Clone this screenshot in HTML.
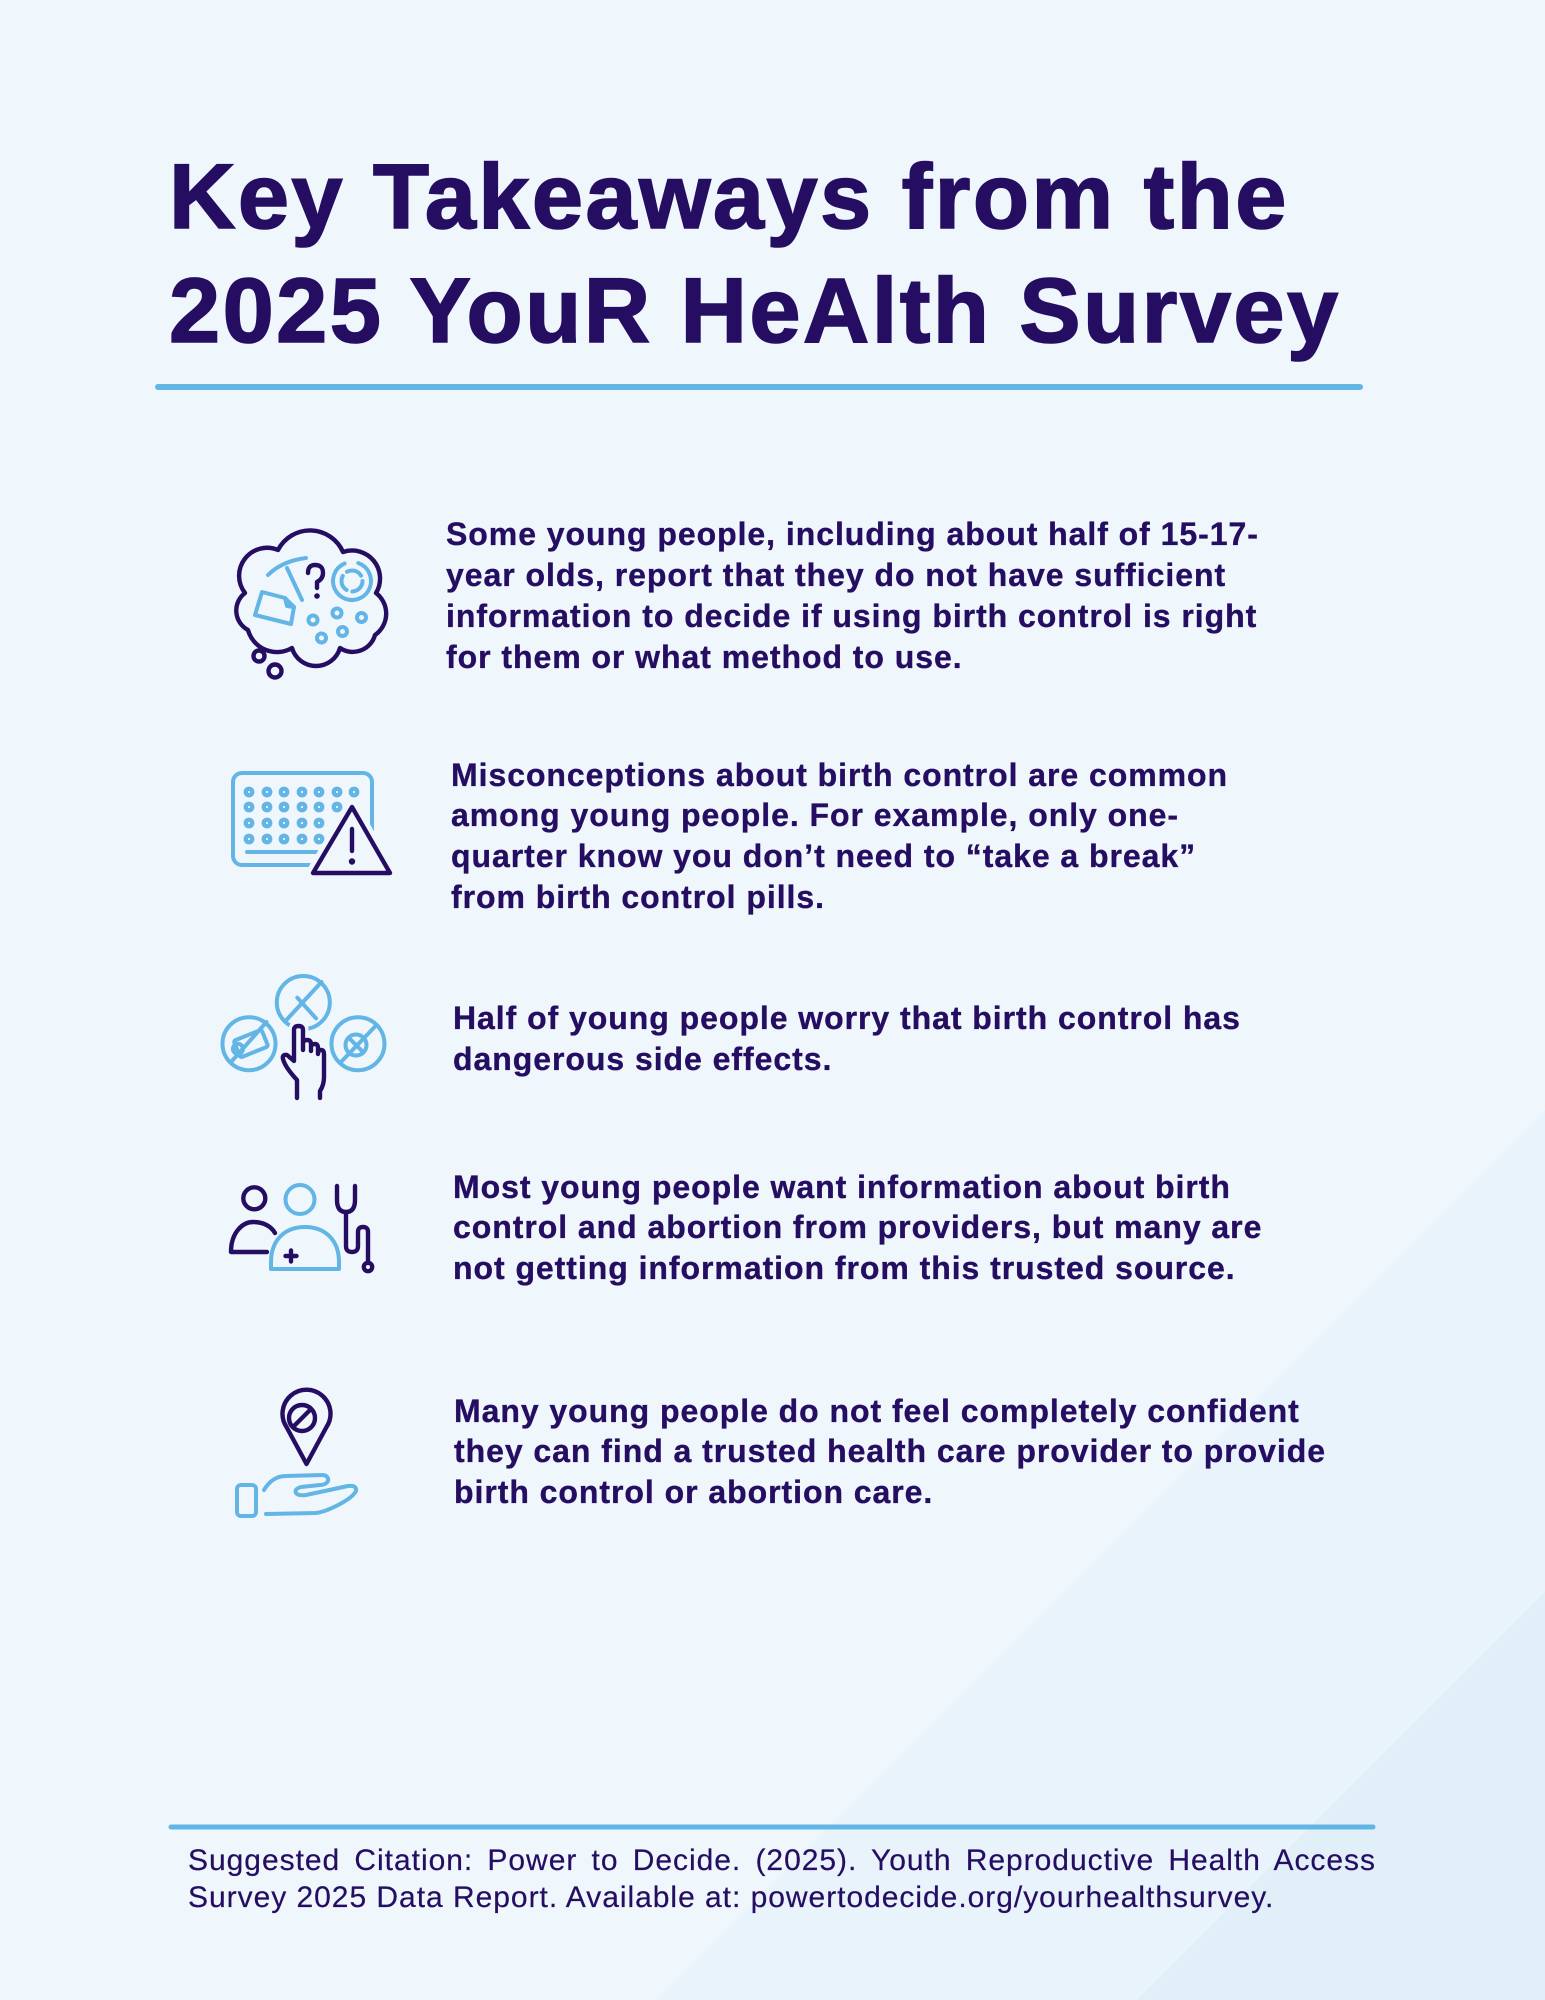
<!DOCTYPE html>
<html>
<head>
<meta charset="utf-8">
<style>
  html,body{margin:0;padding:0;}
  body{width:1545px;height:2000px;position:relative;overflow:hidden;background:#eff7fd;}
  .t{position:absolute;white-space:nowrap;font-family:"Liberation Sans",sans-serif;color:#250e62;}
  .h{font-size:92px;line-height:92px;font-weight:bold;letter-spacing:2.4px;left:169px;-webkit-text-stroke:1.6px #250e62;}
  .b{font-size:32px;line-height:32px;font-weight:bold;letter-spacing:0.95px;-webkit-text-stroke:0.35px #250e62;}
  .c{font-size:30px;line-height:30px;letter-spacing:0.97px;left:188px;-webkit-text-stroke:0.2px #250e62;}
  svg{position:absolute;overflow:visible;}
  .dk{fill:none;stroke:#250e62;stroke-width:4.4;stroke-linecap:round;stroke-linejoin:round;}
  .lb{fill:none;stroke:#62b5e5;stroke-width:4;stroke-linecap:round;stroke-linejoin:round;}
</style>
</head>
<body>
<!-- background diagonals -->
<svg style="left:0;top:0" width="1545" height="2000" viewBox="0 0 1545 2000">
  <polygon points="1545,1110 1545,2000 655,2000" fill="#e8f3fb"/>
  <polygon points="1545,1592 1545,2000 1137,2000" fill="#e1eff9"/>
  <line x1="158" y1="387" x2="1360" y2="387" stroke="#62b5e5" stroke-width="6" stroke-linecap="round"/>
  <line x1="171" y1="1827" x2="1373" y2="1827" stroke="#62b5e5" stroke-width="5" stroke-linecap="round"/>
</svg>

<div class="t h" style="top:151px">Key Takeaways from the</div>
<div class="t h" style="top:265px">2025 YouR HeAlth Survey</div>

<!-- Item 1 -->
<div class="t b" style="left:446px;top:518px">Some young people, including about half of 15-17-</div>
<div class="t b" style="left:446px;top:559px">year olds, report that they do not have sufficient</div>
<div class="t b" style="left:446px;top:600px">information to decide if using birth control is right</div>
<div class="t b" style="left:446px;top:641px">for them or what method to use.</div>

<!-- Item 2 -->
<div class="t b" style="left:451px;top:759px">Misconceptions about birth control are common</div>
<div class="t b" style="left:451px;top:799px">among young people. For example, only one-</div>
<div class="t b" style="left:451px;top:840px">quarter know you don’t need to “take a break”</div>
<div class="t b" style="left:451px;top:881px">from birth control pills.</div>

<!-- Item 3 -->
<div class="t b" style="left:453px;top:1002px">Half of young people worry that birth control has</div>
<div class="t b" style="left:453px;top:1043px">dangerous side effects.</div>

<!-- Item 4 -->
<div class="t b" style="left:453px;top:1171px">Most young people want information about birth</div>
<div class="t b" style="left:453px;top:1211px">control and abortion from providers, but many are</div>
<div class="t b" style="left:453px;top:1252px">not getting information from this trusted source.</div>

<!-- Item 5 -->
<div class="t b" style="left:454px;top:1395px">Many young people do not feel completely confident</div>
<div class="t b" style="left:454px;top:1435px">they can find a trusted health care provider to provide</div>
<div class="t b" style="left:454px;top:1476px">birth control or abortion care.</div>

<!-- Citation -->
<div class="t c" style="top:1846px;width:1188px;text-align:justify;text-align-last:justify;white-space:normal;">Suggested Citation: Power to Decide. (2025). Youth Reproductive Health Access</div>
<div class="t c" style="top:1883px">Survey 2025 Data Report. Available at: powertodecide.org/yourhealthsurvey.</div>

<!-- Icon 1: thought cloud -->
<svg style="left:220px;top:515px" width="190" height="180" viewBox="0 0 190 180">
  <path class="dk" d="M25,78 A28,28 0 0 1 58,35 A36,36 0 0 1 123,37 A28,28 0 0 1 156,78 A26,26 0 0 1 155,120 A23,23 0 0 1 120,133 A25,25 0 0 1 72,133 A30,30 0 0 1 28,115 A22,22 0 0 1 25,78 Z"/>
  <circle class="dk" cx="39" cy="141" r="5.5"/>
  <circle class="dk" cx="55" cy="156" r="6.5"/>
  <!-- packet -->
  <path class="lb" d="M42,77 L65,83 L74,92 L71,109 L35,100 Z"/>
  <path class="lb" d="M65,83 L67,91 L74,92"/>
  <!-- IUD -->
  <path class="lb" d="M48,60 Q62,46 86,43"/>
  <path class="lb" d="M67,53 L82,85"/>
  <!-- question mark -->
  <path class="dk" d="M88,58 Q88,50 95,50 Q103,50 103,58 Q103,64 97,67 L97,73"/>
  <circle cx="97" cy="81" r="2.8" fill="#250e62"/>
  <!-- ring -->
  <circle class="lb" cx="132" cy="66" r="19" stroke-dasharray="105 14" transform="rotate(-70 132 66)"/>
  <circle class="lb" cx="132" cy="66" r="10.5" stroke-dasharray="16 6"/>
  <!-- small circles -->
  <circle class="lb" cx="93" cy="105" r="4.5" stroke-width="3.4"/>
  <circle class="lb" cx="117" cy="98" r="4.5" stroke-width="3.4"/>
  <circle class="lb" cx="141.5" cy="102.5" r="4.5" stroke-width="3.4"/>
  <circle class="lb" cx="101.5" cy="123" r="4.5" stroke-width="3.4"/>
  <circle class="lb" cx="122.5" cy="116.5" r="4.5" stroke-width="3.4"/>
</svg>

<!-- Icon 2: pill pack + warning -->
<svg style="left:220px;top:760px" width="190" height="130" viewBox="0 0 190 130">
  <rect class="lb" x="13" y="13" width="139" height="92" rx="9" stroke-width="4.2"/>
  <line class="lb" x1="27" y1="92" x2="97" y2="92" stroke-width="4.2"/>
  <g fill="#62b5e5">
    <circle cx="29" cy="32" r="5.4"/><circle cx="47" cy="32" r="5.4"/><circle cx="64" cy="32" r="5.4"/><circle cx="82" cy="32" r="5.4"/><circle cx="99" cy="32" r="5.4"/><circle cx="117" cy="32" r="5.4"/><circle cx="134" cy="32" r="5.4"/>
    <circle cx="29" cy="47" r="5.4"/><circle cx="47" cy="47" r="5.4"/><circle cx="64" cy="47" r="5.4"/><circle cx="82" cy="47" r="5.4"/><circle cx="99" cy="47" r="5.4"/><circle cx="117" cy="47" r="5.4"/>
    <circle cx="29" cy="63" r="5.4"/><circle cx="47" cy="63" r="5.4"/><circle cx="64" cy="63" r="5.4"/><circle cx="82" cy="63" r="5.4"/><circle cx="99" cy="63" r="5.4"/>
    <circle cx="29" cy="79" r="5.4"/><circle cx="47" cy="79" r="5.4"/><circle cx="64" cy="79" r="5.4"/><circle cx="82" cy="79" r="5.4"/><circle cx="99" cy="79" r="5.4"/>
  </g>
  <g fill="#eff7fd">
    <circle cx="29" cy="32" r="1.1"/><circle cx="47" cy="32" r="1.1"/><circle cx="64" cy="32" r="1.1"/><circle cx="82" cy="32" r="1.1"/><circle cx="99" cy="32" r="1.1"/><circle cx="117" cy="32" r="1.1"/><circle cx="134" cy="32" r="1.1"/>
    <circle cx="29" cy="47" r="1.1"/><circle cx="47" cy="47" r="1.1"/><circle cx="64" cy="47" r="1.1"/><circle cx="82" cy="47" r="1.1"/><circle cx="99" cy="47" r="1.1"/><circle cx="117" cy="47" r="1.1"/>
    <circle cx="29" cy="63" r="1.1"/><circle cx="47" cy="63" r="1.1"/><circle cx="64" cy="63" r="1.1"/><circle cx="82" cy="63" r="1.1"/><circle cx="99" cy="63" r="1.1"/>
    <circle cx="29" cy="79" r="1.1"/><circle cx="47" cy="79" r="1.1"/><circle cx="64" cy="79" r="1.1"/><circle cx="82" cy="79" r="1.1"/><circle cx="99" cy="79" r="1.1"/>
  </g>
  <path d="M132,47 L93,113 L170,113 Z" fill="#eff7fd" stroke="#eff7fd" stroke-width="14" stroke-linejoin="round"/>
  <path class="dk" d="M132,47 L93,113 L170,113 Z" stroke-width="4.6"/>
  <line class="dk" x1="132" y1="69" x2="132" y2="91"/>
  <circle cx="132" cy="101.5" r="3.2" fill="#250e62"/>
</svg>

<!-- Icon 3: circles + hand -->
<svg style="left:210px;top:965px" width="190" height="145" viewBox="0 0 190 145">
  <circle class="lb" cx="93.3" cy="37.5" r="26.5"/>
  <line class="lb" x1="75" y1="56.5" x2="111.5" y2="17"/>
  <line class="lb" x1="87.3" y1="32.7" x2="106" y2="53.3"/>
  <circle class="lb" cx="39" cy="78.7" r="26.5"/>
  <line class="lb" x1="21.5" y1="96.5" x2="56.5" y2="57"/>
  <g transform="rotate(-22 40 79)">
    <rect class="lb" x="26" y="70" width="30" height="18" rx="2" stroke-width="3.4"/>
    <circle class="lb" cx="27" cy="79" r="5" stroke-width="3.4"/>
  </g>
  <circle class="lb" cx="148" cy="78.7" r="26.5"/>
  <line class="lb" x1="131.5" y1="96.5" x2="166.5" y2="60"/>
  <circle class="lb" cx="146" cy="80" r="10.5"/>
  <line class="lb" x1="139" y1="73" x2="153" y2="87"/>
  <path d="M87,133 L87,115 Q75,102 73,94 Q72,89 77,90 L84,96 L84,65 Q84,61 88.5,61 Q93,61 93,65 L93,85 L93,79 Q93,75 97,75 Q101,75 101,79 L101,86 L101,82 Q101,79 105,79 Q108,79 108,83 L108,89 Q108,85 111,85 Q114,85 114,89 L114,112 Q114,120 110,126 L110,133" fill="none" stroke="#eff7fd" stroke-width="11" stroke-linejoin="round"/>
  <path class="dk" d="M87,133 L87,115 Q75,102 73,94 Q72,89 77,90 L84,96 L84,65 Q84,61 88.5,61 Q93,61 93,65 L93,85 L93,79 Q93,75 97,75 Q101,75 101,79 L101,86 L101,82 Q101,79 105,79 Q108,79 108,83 L108,89 Q108,85 111,85 Q114,85 114,89 L114,112 Q114,120 110,126 L110,133" stroke-width="4"/>
</svg>

<!-- Icon 4: people + stethoscope -->
<svg style="left:215px;top:1170px" width="175" height="120" viewBox="0 0 175 120">
  <circle class="dk" cx="39.3" cy="28.3" r="11"/>
  <path class="dk" d="M52,82 L16,82 C16,62 28,52 38,52 C48,52 56,56 60,63"/>
  <circle class="lb" cx="85" cy="29.5" r="14.5" stroke-width="4.4"/>
  <path class="lb" stroke-width="4.4" d="M56,99 L56,92 C56,70 70,57 90,57 C110,57 124,70 124,92 L124,99 Z"/>
  <line class="dk" x1="76" y1="80.5" x2="76" y2="91.5" stroke-width="4"/>
  <line class="dk" x1="70.5" y1="86" x2="81.5" y2="86" stroke-width="4"/>
  <path class="dk" d="M122,16 L122,30 Q122,42 131,42 Q140,42 140,30 L140,16"/>
  <path class="dk" d="M131,42 L131,76 Q131,82 137,82 Q143,82 143,76 L143,62 Q143,57 148,57 Q153,57 153,62 L153,92"/>
  <circle class="dk" cx="153" cy="97" r="4.2"/>
</svg>

<!-- Icon 5: pin + hand -->
<svg style="left:220px;top:1380px" width="160" height="150" viewBox="0 0 160 150">
  <path class="dk" d="M86.5,84 L66.5,47 A24,24 0 1 1 106.5,47 Z"/>
  <circle class="dk" cx="82" cy="38" r="13"/>
  <line class="dk" x1="73.5" y1="46.5" x2="90.5" y2="29.5"/>
  <rect class="lb" x="17" y="105" width="19" height="31" rx="4" stroke-width="4.4"/>
  <path class="lb" stroke-width="4.4" d="M44,110 C50,100 58,96 66,96 L103,95 Q109,96 108,101 Q106,105 100,105 L81,107 Q74,109 76,113 Q78,116 86,115 L128,106 Q137,105 136,111 Q133,117 120,124 Q105,132 96,133 L46,134"/>
</svg>

</body>
</html>
